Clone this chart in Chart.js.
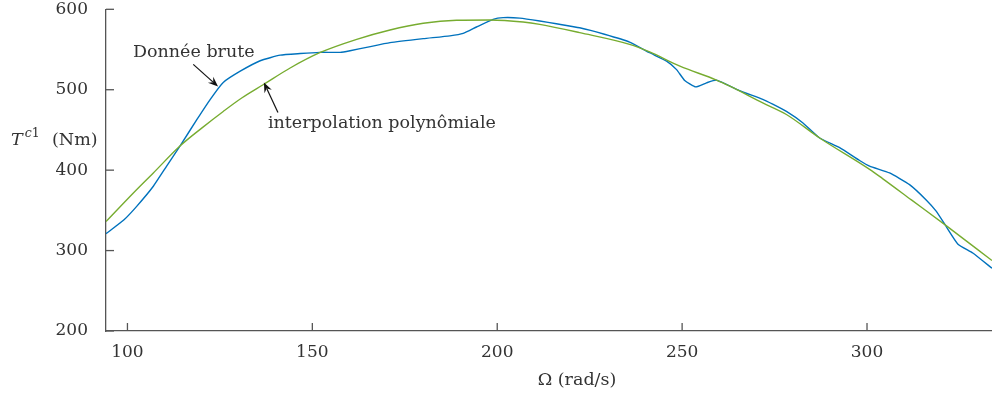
<!DOCTYPE html>
<html>
<head>
<meta charset="utf-8">
<script src="https://cdn.jsdelivr.net/npm/chart.js@4/dist/chart.umd.min.js"></script>
<style>
  html, body { margin: 0; padding: 0; background: #fff; }
  #wrap { width: 992px; height: 397px; position: relative; }
</style>
</head>
<body>
<div id="wrap"><canvas id="c"></canvas></div>
<script>
// Raw measured data (Donnée brute)
const rawX = [94.2, 99.0, 102.5, 107.0, 110.6, 114.2, 118.8, 122.4, 125.9, 130.5, 135.9, 141.3, 146.7, 152.0, 157.5, 160.2, 165.0, 171.0, 180.0, 187.2, 190.8, 194.4, 198.9, 201.6, 206.1, 211.5, 216.0, 222.3, 229.0, 235.8, 241.2, 245.8, 248.5, 250.7, 253.7, 256.6, 259.3, 265.5, 271.8, 274.5, 278.2, 282.6, 287.2, 292.6, 298.0, 300.7, 306.1, 311.5, 316.0, 318.7, 321.4, 324.6, 328.6, 333.8];
const rawY = [321, 338, 355, 380, 405, 430, 463, 488, 509, 523, 536, 543, 545, 546.5, 546.5, 548.5, 553, 558.5, 563.5, 567, 570, 578, 587.5, 589.6, 589, 585.5, 582, 577, 569, 559.3, 546, 535.6, 525, 511.5, 503.6, 508.6, 511.9, 499, 488, 482, 473, 459, 440, 428, 412, 405, 396.5, 382, 363, 349, 330, 308, 297, 278];
// Polynomial interpolation (interpolation polynômiale)
const fitX = [94.2, 101.6, 107.0, 114.2, 120.0, 125.9, 131.0, 136.8, 144.0, 152.0, 162.0, 171.0, 180.0, 189.0, 198.0, 207.0, 211.5, 222.3, 235.8, 241.2, 249.4, 259.3, 262.9, 271.8, 278.2, 287.2, 300.7, 304.2, 312.0, 321.4, 333.8];
const fitY = [336, 371.6, 396.5, 430, 452, 473, 490, 506.5, 527, 546, 562.6, 574.3, 582.6, 586.3, 586.7, 584.2, 581.3, 571, 556.4, 547, 529.3, 512, 504.4, 483.7, 469.2, 440, 401, 389.5, 363, 331, 287.6];
// Axis ticks
const xTicks = [100, 150, 200, 250, 300];
const yTicks = [200, 300, 400, 500, 600];
const xRange = [94.2, 333.8];
const yRange = [200, 600];

const FONT = '"DejaVu Serif", serif';
const TXT = '#333333';
const AXIS = '#555555';

function pts(xs, ys) { return xs.map((x, i) => ({ x: x, y: ys[i] })); }

function arrow(ctx, x1, y1, x2, y2) {
  const ang = Math.atan2(y2 - y1, x2 - x1);
  const L = 10, W = 4;
  const c = Math.cos(ang), s = Math.sin(ang);
  ctx.beginPath();
  ctx.moveTo(x1, y1);
  ctx.lineTo(x2 - c * (L - 3), y2 - s * (L - 3));
  ctx.stroke();
  ctx.beginPath();
  ctx.moveTo(x2, y2);
  ctx.lineTo(x2 - L * c + W * s, y2 - L * s - W * c);
  ctx.lineTo(x2 - (L - 3.5) * c, y2 - (L - 3.5) * s);
  ctx.lineTo(x2 - L * c - W * s, y2 - L * s + W * c);
  ctx.closePath();
  ctx.fill();
}

const extras = {
  id: 'extras',
  afterDraw(chart) {
    const ctx = chart.ctx, xs = chart.scales.x, ys = chart.scales.y, a = chart.chartArea;
    ctx.save();
    // inward ticks
    ctx.strokeStyle = AXIS; ctx.lineWidth = 1.3;
    xTicks.forEach(v => {
      const px = xs.getPixelForValue(v);
      ctx.beginPath(); ctx.moveTo(px, a.bottom); ctx.lineTo(px, a.bottom - 8); ctx.stroke();
    });
    yTicks.forEach(v => {
      const py = ys.getPixelForValue(v);
      ctx.beginPath(); ctx.moveTo(a.left, py); ctx.lineTo(a.left + 8, py); ctx.stroke();
    });
    // annotations (data coordinates)
    ctx.font = '17.5px ' + FONT; ctx.textAlign = 'left'; ctx.textBaseline = 'alphabetic';
    ctx.fillStyle = TXT;
    ctx.fillText('Donnée brute', xs.getPixelForValue(101.5), ys.getPixelForValue(540.5));
    ctx.fillText('interpolation polynômiale', xs.getPixelForValue(138.0), ys.getPixelForValue(453));
    ctx.fillStyle = '#111'; ctx.strokeStyle = '#111'; ctx.lineWidth = 1.2;
    arrow(ctx, xs.getPixelForValue(117.8), ys.getPixelForValue(531.5), xs.getPixelForValue(124.5), ys.getPixelForValue(504));
    arrow(ctx, xs.getPixelForValue(140.7), ys.getPixelForValue(471.6), xs.getPixelForValue(136.9), ys.getPixelForValue(509));
    // y axis title: T^{c1} (Nm)
    ctx.fillStyle = TXT;
    const base = 145;
    let x = 11;
    ctx.font = 'italic 17.5px ' + FONT;
    ctx.fillText('T', x, base); x += ctx.measureText('T').width + 2;
    ctx.font = 'italic 12.5px ' + FONT;
    ctx.fillText('c', x, base - 8); x += ctx.measureText('c').width;
    ctx.font = '12.5px ' + FONT;
    ctx.fillText('1', x, base - 8);
    ctx.font = '17.5px ' + FONT;
    ctx.fillText('(Nm)', 52, base);
    // x axis title
    ctx.textAlign = 'center';
    ctx.fillText('Ω (rad/s)', 577, 385);
    ctx.restore();
  }
};

new Chart(document.getElementById('c'), {
  type: 'line',
  data: {
    datasets: [
      { label: 'Donnée brute', data: pts(rawX, rawY), borderColor: '#0072BD', borderWidth: 1.4,
        pointRadius: 0, tension: 0.15, fill: false, order: 2 },
      { label: 'interpolation polynômiale', data: pts(fitX, fitY), borderColor: '#77AC30', borderWidth: 1.4,
        pointRadius: 0, cubicInterpolationMode: 'monotone', fill: false, order: 1 }
    ]
  },
  options: {
    responsive: true, maintainAspectRatio: false, animation: false,
    layout: { padding: { top: 9.3, right: 0, left: 0, bottom: 0 } },
    plugins: { legend: { display: false }, tooltip: { enabled: false } },
    scales: {
      x: {
        type: 'linear', min: xRange[0], max: xRange[1],
        afterBuildTicks: s => { s.ticks = xTicks.map(v => ({ value: v })); },
        afterFit: s => { s.height = 66; s.paddingLeft = 0; s.paddingRight = 0; },
        grid: { display: false, drawTicks: false },
        border: { display: true, color: AXIS, width: 1.3 },
        ticks: { color: TXT, font: { family: FONT, size: 17 }, padding: 11, maxRotation: 0 }
      },
      y: {
        type: 'linear', min: yRange[0], max: yRange[1],
        afterBuildTicks: s => { s.ticks = yTicks.map(v => ({ value: v })); },
        afterFit: s => { s.width = 106; s.paddingTop = 0; s.paddingBottom = 0; },
        grid: { display: false, drawTicks: false },
        border: { display: true, color: AXIS, width: 1.3 },
        ticks: { color: TXT, font: { family: FONT, size: 17 }, padding: 18 }
      }
    }
  },
  plugins: [extras]
});
</script>
</body>
</html>
